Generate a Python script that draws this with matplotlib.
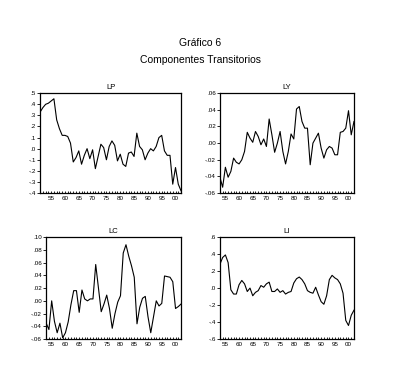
import numpy as np
import matplotlib
matplotlib.use("Agg")
import matplotlib.pyplot as plt
from matplotlib.ticker import FixedLocator, MultipleLocator, FuncFormatter

plt.rcParams['font.family'] = ['Liberation Sans', 'DejaVu Sans']

# Transitory components (annual)
years_lp = np.arange(1951, 2003)
lp = [0.33, 0.37, 0.40, 0.41, 0.43, 0.45, 0.26, 0.18, 0.12, 0.12,
      0.11, 0.05, -0.12, -0.08, -0.02, -0.14, -0.06, 0.00, -0.09, -0.01,
      -0.18, -0.07, 0.04, 0.01, -0.10, 0.02, 0.07, 0.03, -0.11, -0.05,
      -0.14, -0.16, -0.04, -0.03, -0.07, 0.14, 0.02, -0.01, -0.10, -0.04,
      0.00, -0.02, 0.02, 0.10, 0.12, -0.02, -0.06, -0.06, -0.32, -0.17,
      -0.32, -0.38]

years = np.arange(1953, 2003)
ly = [-0.041, -0.053, -0.029, -0.041, -0.034, -0.018, -0.023, -0.025, -0.020, -0.010,
      0.013, 0.006, 0.001, 0.014, 0.008, -0.002, 0.005, -0.004, 0.029, 0.010,
      -0.011, 0.000, 0.014, -0.010, -0.025, -0.010, 0.011, 0.005, 0.041, 0.044,
      0.026, 0.018, 0.018, -0.026, 0.000, 0.006, 0.012, -0.006, -0.018, -0.008,
      -0.004, -0.006, -0.014, -0.014, 0.013, 0.014, 0.018, 0.039, 0.010, 0.026]

lc = [-0.035, -0.045, 0.000, -0.032, -0.050, -0.035, -0.058, -0.050, -0.033, -0.006,
      0.016, 0.016, -0.018, 0.017, 0.003, 0.000, 0.003, 0.003, 0.057, 0.020,
      -0.017, -0.005, 0.009, -0.012, -0.043, -0.020, -0.002, 0.008, 0.075, 0.088,
      0.070, 0.055, 0.037, -0.036, -0.010, 0.004, 0.007, -0.025, -0.050, -0.025,
      0.000, -0.008, -0.004, 0.039, 0.038, 0.037, 0.030, -0.012, -0.009, -0.005]

li = [0.28, 0.36, 0.39, 0.30, -0.02, -0.07, -0.07, 0.04, 0.09, 0.05,
      -0.04, 0.00, -0.09, -0.05, -0.03, 0.03, 0.01, 0.05, 0.07, -0.04,
      -0.04, -0.01, -0.05, -0.03, -0.07, -0.05, -0.04, 0.06, 0.11, 0.13,
      0.10, 0.05, -0.03, -0.05, -0.06, 0.01, -0.08, -0.16, -0.19, -0.09,
      0.10, 0.15, 0.12, 0.10, 0.05, -0.06, -0.38, -0.44, -0.32, -0.26]

tick_years = [1955, 1960, 1965, 1970, 1975, 1980, 1985, 1990, 1995, 2000]


def ylab(v, pos, dec):
    s = f"{v:.{dec}f}"
    if s.startswith("-0"):
        return "-" + s[2:]
    if s.startswith("0"):
        return s[1:]
    return s


def panel(pos, x, y, title, ylim, ystep, dec):
    ax = fig.add_axes(pos)
    ax.plot(x, y, color='black', linewidth=0.8)
    ax.set_xlim(x[0], x[-1])
    ax.set_ylim(*ylim)
    ax.yaxis.set_major_locator(MultipleLocator(ystep))
    ax.yaxis.set_major_formatter(FuncFormatter(lambda v, p: ylab(v, p, dec)))
    ax.xaxis.set_major_locator(FixedLocator(tick_years))
    ax.xaxis.set_minor_locator(MultipleLocator(1))
    ax.xaxis.set_major_formatter(FuncFormatter(lambda v, p: f"{int(round(v)) % 100:02d}"))
    ax.tick_params(axis='x', which='both', direction='in', length=1.5, width=0.6,
                   labelsize=4.5, pad=2)
    ax.tick_params(axis='y', direction='out', length=2, width=0.6, labelsize=4.5, pad=1)
    for s in ax.spines.values():
        s.set_linewidth(0.9)
    ax.set_title(title, fontsize=5.5, pad=3)
    return ax


fig = plt.figure(figsize=(4.05, 3.67), dpi=100)

fig.text(0.494, 0.882, "Gráfico 6", ha='center', va='center', fontsize=7.5)
fig.text(0.494, 0.836, "Componentes Transitorios", ha='center', va='center', fontsize=7.5)

panel([0.099, 0.474, 0.348, 0.272], years_lp, lp, "LP", (-0.4, 0.5), 0.1, 1)
panel([0.543, 0.474, 0.331, 0.272], years, ly, "LY", (-0.06, 0.06), 0.02, 2)
panel([0.114, 0.076, 0.333, 0.278], years, lc, "LC", (-0.06, 0.10), 0.02, 2)
panel([0.543, 0.076, 0.331, 0.278], years, li, "LI", (-0.6, 0.6), 0.2, 1)

fig.savefig("out.png", dpi=100)
